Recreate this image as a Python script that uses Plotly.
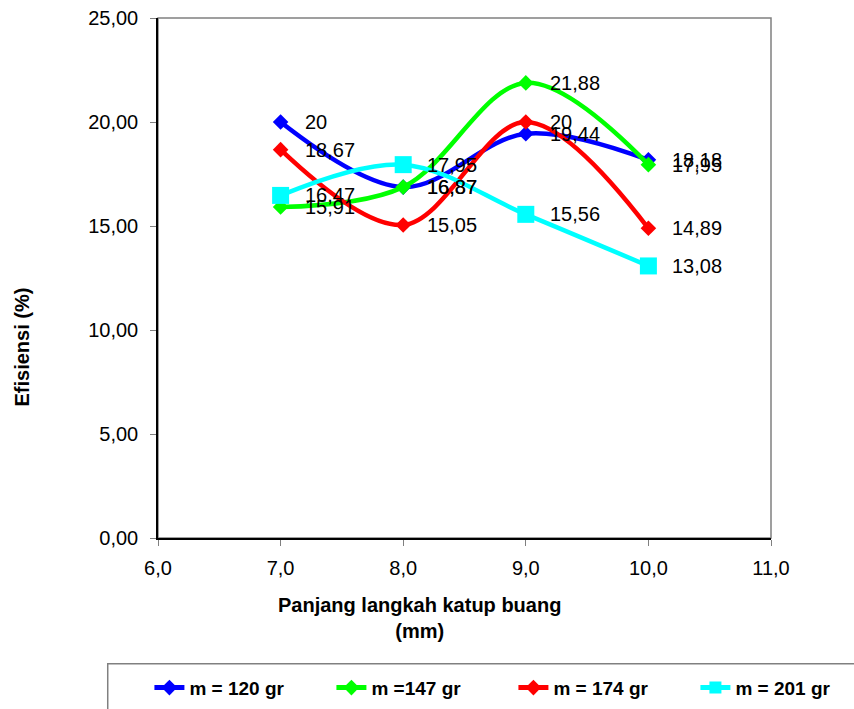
import plotly.graph_objects as go

# Panjang langkah katup buang (mm)
langkah = [7.0, 8.0, 9.0, 10.0]

# Efisiensi (%) per massa beban
eff_120 = [20.0, 16.87, 19.44, 18.18]
eff_147 = [15.91, 16.87, 21.88, 17.95]
eff_174 = [18.67, 15.05, 20.0, 14.89]
eff_201 = [16.47, 17.95, 15.56, 13.08]

series_names = ["m = 120 gr", "m =147 gr", "m = 174 gr", "m = 201 gr"]
series_values = [eff_120, eff_147, eff_174, eff_201]
series_colors = ["#0000FF", "#00FF00", "#FF0000", "#00FFFF"]
series_symbols = ["diamond", "diamond", "diamond", "square"]
series_sizes = [12, 12, 12, 17]

FONT = "Liberation Sans, Arial, sans-serif"


def fmt_label(v):
    return f"{v:g}".replace(".", ",")


fig = go.Figure()
annotations = []
for name, vals, col, sym, sz in zip(series_names, series_values, series_colors,
                                     series_symbols, series_sizes):
    fig.add_trace(go.Scatter(
        x=langkah, y=vals, name=name,
        mode="lines+markers",
        line=dict(color=col, width=4.5, shape="spline", smoothing=1),
        marker=dict(symbol=sym, size=sz, color=col, line=dict(width=0)),
    ))
    for xv, yv in zip(langkah, vals):
        annotations.append(dict(
            x=xv, y=yv, xref="x", yref="y", text=fmt_label(yv),
            showarrow=False, xanchor="left", yanchor="middle", xshift=22,
            font=dict(family=FONT, size=20, color="black"),
        ))

# axis titles
annotations.append(dict(
    x=0.426, y=-0.104, xref="paper", yref="paper",
    text="<b>Panjang langkah katup buang<br>(mm)</b>", showarrow=False,
    xanchor="center", yanchor="top",
    font=dict(family=FONT, size=20, color="black"),
))
annotations.append(dict(
    x=-0.222, y=0.368, xref="paper", yref="paper",
    text="<b>Efisiensi (%)</b>", showarrow=False, textangle=-90,
    xanchor="center", yanchor="middle",
    font=dict(family=FONT, size=20, color="black"),
))

shapes = [
    # plot frame (top/right in gray)
    dict(type="rect", xref="paper", yref="paper", x0=0, y0=0, x1=1, y1=1,
         line=dict(color="#808080", width=1.5), layer="below"),
    # legend frame
    dict(type="rect", xref="paper", yref="paper", x0=-0.082, y0=-0.242,
         x1=1.2, y1=-0.36, line=dict(color="#808080", width=1.5), layer="below"),
]

fig.update_layout(
    width=854, height=709,
    margin=dict(l=158, r=83, t=18, b=171, autoexpand=False),
    paper_bgcolor="white", plot_bgcolor="white",
    separators=",.",
    font=dict(family=FONT, size=20, color="black"),
    showlegend=True,
    legend=dict(
        orientation="h", x=-0.014, y=-0.288, xanchor="left", yanchor="middle",
        font=dict(family=FONT, size=19, color="black", weight="bold"),
        entrywidth=137, entrywidthmode="pixels",
        bgcolor="rgba(0,0,0,0)", borderwidth=0, itemsizing="constant",
    ),
    annotations=annotations,
    shapes=shapes,
)

fig.update_xaxes(
    range=[6.0, 11.0], tickmode="linear", tick0=6.0, dtick=1.0, tickformat=".1f",
    showgrid=False, zeroline=False, showline=True, linecolor="black", linewidth=1.5,
    ticks="outside", ticklen=6, tickcolor="#808080", ticklabelstandoff=5,
    tickfont=dict(family=FONT, size=20, color="black"),
)
fig.update_yaxes(
    range=[0, 25], tickmode="linear", tick0=0, dtick=5, tickformat=".2f",
    showgrid=False, zeroline=False, showline=True, linecolor="black", linewidth=1.5,
    ticks="outside", ticklen=6, tickcolor="#808080", ticklabelstandoff=8,
    tickfont=dict(family=FONT, size=20, color="black"),
)

fig.write_html("out.html")
